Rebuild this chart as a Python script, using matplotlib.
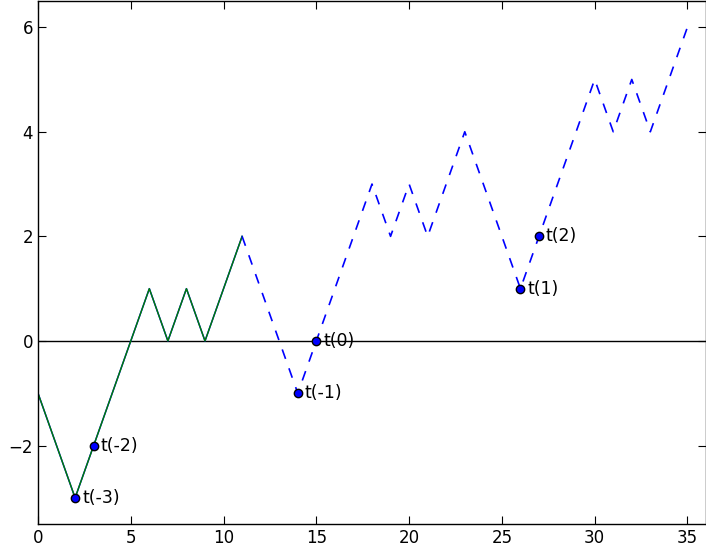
import matplotlib
matplotlib.use("Agg")
import matplotlib.pyplot as plt

x_past = list(range(0, 12))
y_past = [-1, -2, -3, -2, -1, 0, 1, 0, 1, 0, 1, 2]
x_future = list(range(11, 36))
y_future = [2, 1, 0, -1, 0, 1, 2, 3, 2, 3, 2, 3, 4, 3, 2, 1, 2, 3, 4, 5, 4, 5, 4, 5, 6]
pt_x = [2, 3, 14, 15, 26, 27]
pt_y = [-3, -2, -1, 0, 1, 2]
pt_labels = ["t(-3)", "t(-2)", "t(-1)", "t(0)", "t(1)", "t(2)"]

fig = plt.figure(figsize=(7.06, 5.5), dpi=100)
ax = fig.add_axes([38/706, 26/550, 668/706, 523/550])
ax.axhline(0, color="black", linewidth=1)
ax.plot(x_past, y_past, color="blue", linewidth=1.1)
ax.plot(x_past, y_past, color="green", linewidth=1)
ax.plot(x_future, y_future, color="blue", linewidth=1.2, dashes=(6, 6))
ax.plot(pt_x, pt_y, "o", color="blue", markeredgecolor="black", markersize=6, linestyle="none")
for px, py, lab in zip(pt_x, pt_y, pt_labels):
    ax.annotate(lab, (px, py), xytext=(5, 0), textcoords="offset points",
                fontsize=12.5, va="center")
ax.set_xlim(0, 36)
ax.set_ylim(-3.5, 6.5)
ax.set_xticks([0, 5, 10, 15, 20, 25, 30, 35])
ax.set_yticks([-2, 0, 2, 4, 6])
ax.set_yticklabels(["\u22122", "0", "2", "4", "6"])
ax.tick_params(direction="in", length=6, labelsize=12, top=True, right=True)
for s in ax.spines.values():
    s.set_linewidth(1)
fig.savefig("out.png", dpi=100)
